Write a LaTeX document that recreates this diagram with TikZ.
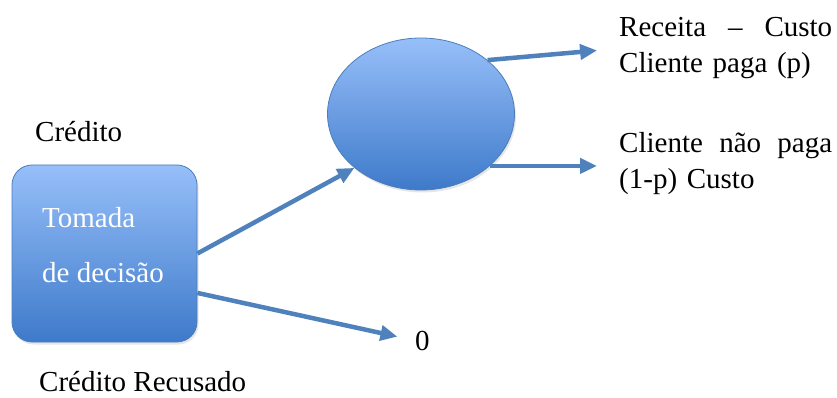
\documentclass[tikz,border=0pt]{standalone}
\usepackage{fontspec}
\setmainfont{Liberation Serif}
\usetikzlibrary{arrows.meta,shapes.geometric,shadows}

\definecolor{azulclaro}{RGB}{151,191,249}
\definecolor{azulescuro}{RGB}{62,122,202}
\definecolor{borda}{RGB}{74,126,187}
\definecolor{azulseta}{RGB}{79,129,189}

\begin{document}
\begin{tikzpicture}[x=1pt,y=-1pt,
        texto/.style={inner sep=0pt,anchor=base west,font=\fontsize{29}{36}\selectfont},
        bloco/.style={draw=borda,line width=0.8pt,top color=azulclaro,bottom color=azulescuro,
            drop shadow={opacity=0.2,shadow xshift=1.5pt,shadow yshift=-2.5pt}},
        seta/.style={-{Triangle[length=17pt,width=15pt]},line width=4.5pt,draw=azulseta}]
        \useasboundingbox (0,0) rectangle (837,398);

        \node[bloco,rounded corners=20pt,minimum width=185pt,minimum height=177pt,inner sep=0pt] (decisao) at (104.5,253.5) {};
        \node[texto,text=white] (tomada) at (42,227) {Tomada};
        \node[texto,text=white] (dedecisao) at (42,282) {de decisão};

        \node[bloco,ellipse,minimum width=187pt,minimum height=152pt,inner sep=0pt] (aceito) at (421,114) {};

        \node[texto] (credito) at (35,142) {Crédito};
        \node[texto] (recusado) at (39,391) {Crédito Recusado};
        \node[texto] (zero) at (415,350) {0};

        \node[texto,text width=213pt,align=left] (paga) at (619,37) {Receita \hfill – \hfill Custo\\Cliente paga (p)};
        \node[texto,text width=213pt,align=left] (naopaga) at (619,153) {Cliente \hfill não \hfill paga\\(1-p) Custo};

        % setas
        \draw[seta] (decisao.east) -- (aceito.219);
        \draw[seta,shorten >=18pt] (decisao.-23) -- (zero.west);
        \draw[seta,shorten >=22pt] (aceito.39) -- (paga.west);
        \draw[seta,shorten >=22pt] (aceito.-37) -- (naopaga.west |- aceito.-37);

    \end{tikzpicture}
\end{document}
